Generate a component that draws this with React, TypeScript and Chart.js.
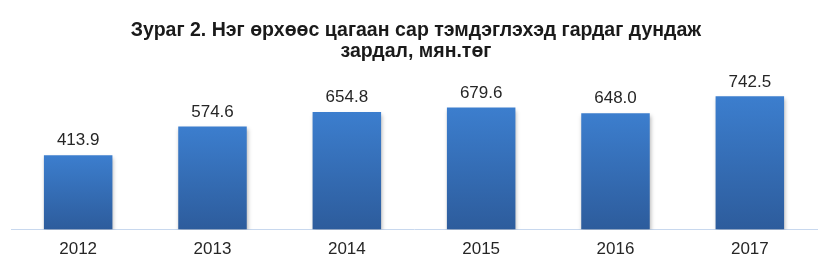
import React, { useEffect, useRef } from "react";
import { Chart, registerables } from "chart.js";

Chart.register(...registerables);

const categories = ["2012", "2013", "2014", "2015", "2016", "2017"];
const values = [413.9, 574.6, 654.8, 679.6, 648.0, 742.5];
const titleLines = [
  "Зураг 2. Нэг өрхөөс цагаан сар тэмдэглэхэд гардаг дундаж",
  "зардал, мян.төг",
];
const yMin = 0;
const yMax = 800;

const barShadow = {
  id: "barShadow",
  beforeDatasetDraw(chart: any) {
    const ctx = chart.ctx;
    ctx.save();
    ctx.shadowColor = "rgba(0,0,0,0.28)";
    ctx.shadowBlur = 4;
    ctx.shadowOffsetX = 1;
    ctx.shadowOffsetY = 3;
  },
  afterDatasetDraw(chart: any) {
    chart.ctx.restore();
  },
};

const dataLabels = {
  id: "dataLabels",
  afterDatasetsDraw(chart: any) {
    const ctx = chart.ctx;
    const meta = chart.getDatasetMeta(0);
    ctx.save();
    ctx.font = '17px "Liberation Sans", Arial, sans-serif';
    ctx.fillStyle = "#262626";
    ctx.textAlign = "center";
    ctx.textBaseline = "bottom";
    meta.data.forEach((bar: any, i: number) => {
      ctx.fillText(values[i].toFixed(1), bar.x, bar.y - 6);
    });
    ctx.restore();
  },
};

// Condensed bold title (narrow face is not installed, so squeeze horizontally)
const condensedTitle = {
  id: "condensedTitle",
  afterDraw(chart: any) {
    const ctx = chart.ctx;
    const area = chart.chartArea;
    const cx = (area.left + area.right) / 2 + 2;
    const sx = 0.93;
    ctx.save();
    ctx.font = 'bold 21px "Liberation Sans", Arial, sans-serif';
    ctx.fillStyle = "#1a1a1a";
    ctx.textAlign = "center";
    ctx.textBaseline = "middle";
    ctx.translate(cx, 0);
    ctx.scale(sx, 1);
    titleLines.forEach((line, i) => {
      ctx.fillText(line, 0, 30 + i * 21.5);
    });
    ctx.restore();
  },
};

export default function App() {
  const ref = useRef<HTMLCanvasElement>(null);

  useEffect(() => {
    document.body.style.margin = "0";
    const canvas = ref.current!;
    const chart = new Chart(canvas, {
      type: "bar",
      data: {
        labels: categories,
        datasets: [
          {
            data: values,
            barPercentage: 0.51,
            categoryPercentage: 1,
            borderWidth: 0,
            backgroundColor: (c: any) => {
              const ch = c.chart;
              const area = ch.chartArea;
              if (!area || c.dataIndex === undefined) return "#3570bb";
              const y = ch.scales.y;
              const top = y.getPixelForValue(values[c.dataIndex]);
              const bottom = y.getPixelForValue(0);
              const g = ch.ctx.createLinearGradient(0, top, 0, bottom);
              g.addColorStop(0, "#3c7ece");
              g.addColorStop(1, "#2d5c9c");
              return g;
            },
          },
        ],
      },
      options: {
        animation: false,
        responsive: false,
        maintainAspectRatio: false,
        layout: { padding: { left: 11, right: 8, top: 86, bottom: 3 } },
        plugins: {
          legend: { display: false },
          tooltip: { enabled: false },
          title: { display: false },
        },
        scales: {
          x: {
            grid: { display: false, drawTicks: false },
            border: { display: true, color: "#c8d8ee", width: 1 },
            ticks: {
              color: "#262626",
              padding: 10,
              font: { family: '"Liberation Sans", Arial, sans-serif', size: 17 },
            },
          },
          y: {
            display: false,
            min: yMin,
            max: yMax,
          },
        },
      },
      plugins: [barShadow, dataLabels, condensedTitle],
    });
    return () => chart.destroy();
  }, []);

  return (
    <div style={{ width: 825, height: 273, background: "#fff" }}>
      <canvas ref={ref} width={825} height={273} style={{ display: "block" }} />
    </div>
  );
}
